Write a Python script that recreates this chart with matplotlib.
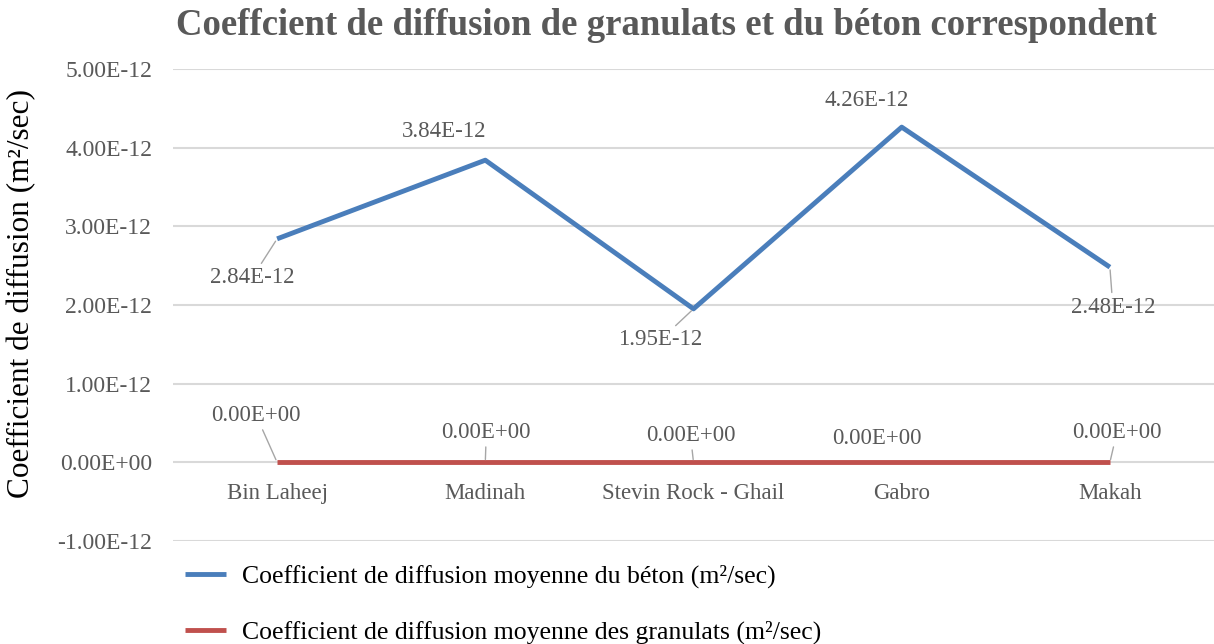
import matplotlib
matplotlib.use("Agg")
import matplotlib.pyplot as plt
from matplotlib.ticker import FuncFormatter

plt.rcParams['font.family'] = ['Liberation Serif', 'DejaVu Serif']

categories = ["Bin Laheej", "Madinah", "Stevin Rock - Ghail", "Gabro", "Makah"]
beton = [2.84e-12, 3.84e-12, 1.95e-12, 4.26e-12, 2.48e-12]
granulats = [0.0, 0.0, 0.0, 0.0, 0.0]

# label offsets (pixels) and whether a leader line is drawn
beton_offsets = [(-25, -39), (-41, 29), (-33, -31), (-35, 27), (3, -40)]
beton_leaders = [True, False, True, False, True]
gran_offsets = [(-21, 47), (1, 30), (-3, 27), (-25, 24), (7, 30)]
gran_leaders = [True, True, True, False, True]

blue = "#4a7ebb"
red = "#c0504d"
grey = "#595959"

fig = plt.figure(figsize=(12.14, 6.44), dpi=100)
ax = fig.add_axes([0.1425, 0.16, 0.8575, 0.733])

x = list(range(len(categories)))
l1, = ax.plot(x, beton, color=blue, lw=3.5, solid_capstyle='butt', zorder=3)
l2, = ax.plot(x, granulats, color=red, lw=3.5, solid_capstyle='butt', zorder=3)

def label(xs, ys, offs, leaders):
    for xi, yi, (dx, dy), ld in zip(xs, ys, offs, leaders):
        ap = dict(arrowstyle='-', color='#a6a6a6', lw=1, shrinkA=1, shrinkB=2) if ld else None
        ax.annotate(f"{yi:.2E}", (xi, yi), xytext=(dx, dy), textcoords='offset pixels',
                    ha='center', va='center', fontsize=16.5, color=grey,
                    arrowprops=ap, zorder=4)

label(x, beton, beton_offsets, beton_leaders)
label(x, granulats, gran_offsets, gran_leaders)

ax.set_xlim(-0.5, len(categories) - 0.5)
ax.set_ylim(-1e-12, 5e-12)
ax.set_yticks([k * 1e-12 for k in range(-1, 6)])
ax.yaxis.set_major_formatter(FuncFormatter(lambda v, p: f"{v:.2E}"))
ax.yaxis.get_offset_text().set_visible(False)
ax.grid(axis='y', color='#d9d9d9', lw=1.5)
ax.set_axisbelow(True)
for s in ax.spines.values():
    s.set_visible(False)
ax.tick_params(axis='both', length=0, labelsize=17, labelcolor=grey)
ax.tick_params(axis='y', pad=15)

# category labels sit just below the zero line
ax.set_xticks([])
for xi, c in zip(x, categories):
    ax.text(xi, -0.4e-12, c, ha='center', va='center', fontsize=16.5, color=grey)

ax.set_ylabel("Coefficient de diffusion (m²/sec)", fontsize=22.5, color='black')
ax.yaxis.set_label_coords(-0.145, 0.525)
ax.yaxis.label.set_va('center')

fig.suptitle("Coeffcient de diffusion de granulats et du béton correspondent",
             x=0.549, y=0.961, va='center', fontsize=26.5, fontweight='bold', color=grey)

fig.legend([l1, l2],
           ["Coefficient de diffusion moyenne du béton (m²/sec)",
            "Coefficient de diffusion moyenne des granulats (m²/sec)"],
           loc='lower left', bbox_to_anchor=(185 / 1214, 0.0), frameon=False,
           fontsize=18.5, handlelength=1.6, labelspacing=1.25, handletextpad=0.6,
           borderpad=0.0, borderaxespad=0.0)

fig.savefig("out.png", dpi=100)
